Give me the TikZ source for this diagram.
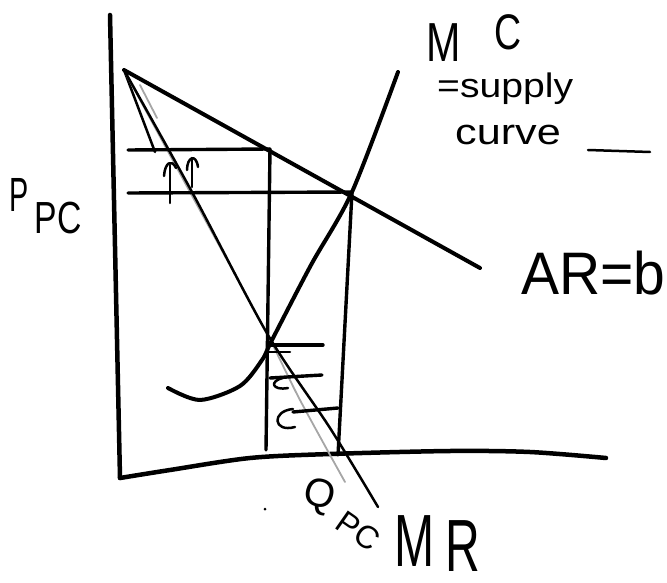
\documentclass[tikz,border=0pt]{standalone}
\usepackage{fontspec}
\setmainfont{Liberation Sans}
\begin{document}
\begin{tikzpicture}[x=1pt,y=-1pt, line cap=round, line join=round,
  axisline/.style={line width=4.5pt},
  curveline/.style={line width=4pt},
  guideline/.style={line width=3.4pt},
  thinline/.style={line width=2.5pt},
  faintline/.style={line width=1.8pt, black!35},
  hand/.style={font=\fontsize{#1}{#1}\selectfont, inner sep=0pt, text depth=0pt}]
\useasboundingbox (0,0) rectangle (667,583);
% key points
\coordinate (top) at (124,70);
\coordinate (arend) at (480,268);
\coordinate (eq) at (352,192);
\coordinate (aq) at (270,149);
\coordinate (origin) at (120,478);
% axes
\draw[axisline] (110,15) -- (origin);
\draw[axisline] plot[smooth] coordinates {(120,478) (170,470) (250,458) (330,454) (450,451) (530,452) (606,458)};
% AR = demand
\draw[curveline] (top) -- (arend);
% lines from the top point
\draw[thinline] (top) -- (155,152);
\draw[faintline] (140,85) -- (157,118);
\draw[faintline] plot[smooth] coordinates {(126,74) (190,192) (265,330) (300,400) (345,482)};
\draw[thinline] plot[smooth] coordinates {(top) (192,192) (268,335) (330,428) (378,507)};
% MC
\draw[curveline] plot[smooth] coordinates {(168,388) (200,400) (240,386) (262,360) (272,340) (311,265) (eq) (398,72)};
% guide lines
\draw[guideline] (128,150) -- (aq);
\draw[guideline] (128,193) -- (eq);
\draw[guideline] (aq) -- (266,450);
\draw[guideline] (eq) -- (338,455);
% small marks
\draw[guideline] (270,345) -- (323,345);
\draw[thinline] (268,352) -- (290,352);
\draw[guideline] (270,378) -- (322,375);
\draw[thinline] (283,378) .. controls (269,381) and (272,391) .. (288,388);
\draw[guideline] (293,412) -- (338,408);
\draw[thinline] (293,409) .. controls (271,411) and (273,433) .. (295,427);
% arrows
\draw[thinline] (170,203) -- (170,165);
\draw[thinline] (164,176) .. controls (165,162) and (172,159) .. (176,168);
\draw[thinline] (192,187) -- (192,158);
\draw[thinline] (187,170) .. controls (187,157) and (196,153) .. (198,167);
% dot
\fill (265,509) circle (1.5pt);
% labels
\node[hand=48, xscale=0.6] (plab) at (19,195) {P};
\node[hand=45, xscale=0.75] (pclab) at (58,218) {PC};
\node[hand=55, xscale=0.75, anchor=base] (mlab) at (444,62) {M};
\node[hand=50, xscale=0.75, anchor=base] (clab) at (508,50) {C};
\node[hand=34, anchor=base west, xscale=1.15] (supply) at (437,98) {=supply};
\node[hand=36, anchor=base west, xscale=1.2] (curve) at (455,145) {curve};
\draw[thinline] (588,150) -- (650,152);
\node[hand=60, anchor=base west, xscale=0.95] (arlab) at (521,294) {AR=b};
\node[hand=40, rotate=-15, anchor=base] (qlab) at (317,507) {Q};
\node[hand=32, rotate=-35, anchor=base] (qpclab) at (352,540) {PC};
\node[hand=74, xscale=0.65, anchor=base] (mrm) at (415,566) {M};
\node[hand=74, xscale=0.65, anchor=base] (mrr) at (463,571) {R};
\end{tikzpicture}
\end{document}
